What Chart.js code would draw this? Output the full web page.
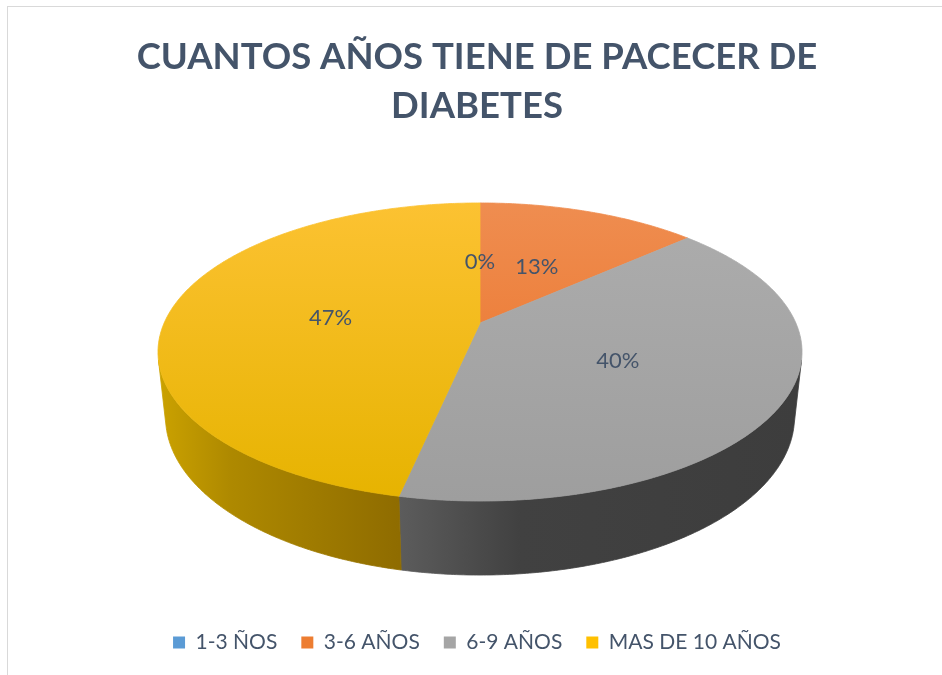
<!DOCTYPE html>
<html>
<head>
<meta charset="utf-8">
<script src="https://cdn.jsdelivr.net/npm/chart.js@4.4.1/dist/chart.umd.min.js"></script>
<style>
  html, body { margin: 0; padding: 0; background: #fff; }
  #wrap { position: relative; width: 942px; height: 675px; overflow: hidden; }
  #frame { position: absolute; left: 7px; top: 6px; width: 960px; height: 700px;
           border-left: 1px solid #D9D9D9; border-top: 1px solid #D9D9D9; }
  canvas { position: absolute; left: 0; top: 0; }
</style>
</head>
<body>
<div id="wrap">
  <div id="frame"></div>
  <canvas id="pieChart" width="942" height="675"></canvas>
</div>
<script>
const categories = ['1-3 ÑOS', '3-6 AÑOS', '6-9 AÑOS', 'MAS DE 10 AÑOS'];
const counts = [0, 4, 12, 14];
const titleLines = ['CUANTOS AÑOS TIENE DE PACECER DE', 'DIABETES'];

// colours: legend swatch, top face (top -> bottom), side wall (left -> mid -> right)
const sliceColors = ['#5B9BD5', '#ED7D31', '#A5A5A5', '#FFC000'];
const topShades = [['#6AA5DA', '#4A8BC9'], ['#EF8D50', '#EA6F22'], ['#ADADAD', '#9E9E9E'], ['#FCC232', '#E6B300']];
const sideShades = [['#3F77AA', '#345F8C', '#2D5A84'], ['#B85A1E', '#A04E19', '#8E4414'],
                    ['#5C5C5C', '#414141', '#3D3D3D'], ['#CBA200', '#AE8900', '#8F6C00']];

const textColor = '#44546A';
const total = counts.reduce((a, b) => a + b, 0);

// perspective camera for the 3D look (pie radius = 1 unit)
const cam = { cx: 480, cy: 323, f: 1446.6, dist: 4.58, tilt: 27 * Math.PI / 180, depth: 0.2325 };
const cosT = Math.cos(cam.tilt), sinT = Math.sin(cam.tilt);

function project(x, d, h) {
  const z = cam.dist + d * cosT - h * sinT;
  return [cam.cx + cam.f * x / z, cam.cy - cam.f * (d * sinT + h * cosT) / z];
}

// canvas angle a -> point on the rim (d is depth, + towards the back)
function rim(a, h) {
  return project(Math.cos(a), -Math.sin(a), h);
}

const pie3d = {
  id: 'pie3d',
  beforeDatasetsDraw(chart) {
    const ctx = chart.ctx;
    const arcs = chart.getDatasetMeta(0).data;
    const step = Math.PI / 360;
    // front part of the wall that faces the camera
    const aMin = Math.asin(1 / (cam.dist * cosT));
    const aMax = Math.PI - aMin;

    ctx.save();

    // side walls
    arcs.forEach((arc, i) => {
      const { startAngle, endAngle } = arc.getProps(['startAngle', 'endAngle'], true);
      const a0 = Math.max(startAngle, aMin);
      const a1 = Math.min(endAngle, aMax);
      if (a1 <= a0) return;
      const p0 = rim(a0, 0), p1 = rim(a1, 0);
      const xl = Math.min(p0[0], p1[0]), xr = Math.max(p0[0], p1[0]);
      const g = ctx.createLinearGradient(xl, 0, xr, 0);
      g.addColorStop(0, sideShades[i][0]);
      g.addColorStop(0.3, sideShades[i][1]);
      g.addColorStop(1, sideShades[i][2]);
      ctx.beginPath();
      let p = rim(a0, 0);
      ctx.moveTo(p[0], p[1]);
      for (let a = a0; a < a1; a += step) { p = rim(a, 0); ctx.lineTo(p[0], p[1]); }
      p = rim(a1, 0); ctx.lineTo(p[0], p[1]);
      for (let a = a1; a > a0; a -= step) { p = rim(a, -cam.depth); ctx.lineTo(p[0], p[1]); }
      p = rim(a0, -cam.depth); ctx.lineTo(p[0], p[1]);
      ctx.closePath();
      ctx.fillStyle = g;
      ctx.strokeStyle = g;
      ctx.lineWidth = 0.8;
      ctx.fill();
      ctx.stroke();
    });

    // top faces
    const yTop = rim(-Math.PI / 2, 0)[1];
    const yBot = rim(Math.PI / 2, 0)[1];
    arcs.forEach((arc, i) => {
      const { startAngle, endAngle } = arc.getProps(['startAngle', 'endAngle'], true);
      if (endAngle - startAngle <= 0) return;
      const g = ctx.createLinearGradient(0, yTop, 0, yBot);
      g.addColorStop(0, topShades[i][0]);
      g.addColorStop(1, topShades[i][1]);
      ctx.beginPath();
      let p = project(0, 0, 0);
      ctx.moveTo(p[0], p[1]);
      for (let a = startAngle; a < endAngle; a += step) { p = rim(a, 0); ctx.lineTo(p[0], p[1]); }
      p = rim(endAngle, 0); ctx.lineTo(p[0], p[1]);
      ctx.closePath();
      ctx.fillStyle = g;
      ctx.strokeStyle = g;
      ctx.lineWidth = 0.8;
      ctx.fill();
      ctx.stroke();
    });

    // percentage labels
    ctx.font = '22px Lato';
    ctx.fillStyle = textColor;
    ctx.textAlign = 'center';
    ctx.textBaseline = 'middle';
    arcs.forEach((arc, i) => {
      const { startAngle, endAngle } = arc.getProps(['startAngle', 'endAngle'], true);
      const mid = (startAngle + endAngle) / 2;
      const r = 0.48;
      const p = project(r * Math.cos(mid), -r * Math.sin(mid), 0);
      const pct = Math.round(counts[i] / total * 100);
      ctx.fillText(pct + '%', p[0], p[1] + 2);
    });

    ctx.restore();
    return false;
  }
};

const ctx = document.getElementById('pieChart').getContext('2d');
const chart = new Chart(ctx, {
  type: 'pie',
  data: {
    labels: categories,
    datasets: [{
      data: counts,
      backgroundColor: sliceColors,
      borderWidth: 0
    }]
  },
  options: {
    responsive: false,
    animation: false,
    layout: { padding: { bottom: 12, left: 12 } },
    plugins: {
      title: {
        display: true,
        text: titleLines,
        color: textColor,
        font: { family: 'Lato', size: 36.5, weight: 'bold', lineHeight: 1.33 },
        padding: { top: 33, bottom: 10 }
      },
      legend: {
        position: 'bottom',
        labels: {
          color: textColor,
          font: { family: 'Lato', size: 21 },
          boxWidth: 12,
          boxHeight: 12,
          padding: 24
        }
      },
      tooltip: { enabled: false }
    }
  },
  plugins: [pie3d]
});
</script>
</body>
</html>
